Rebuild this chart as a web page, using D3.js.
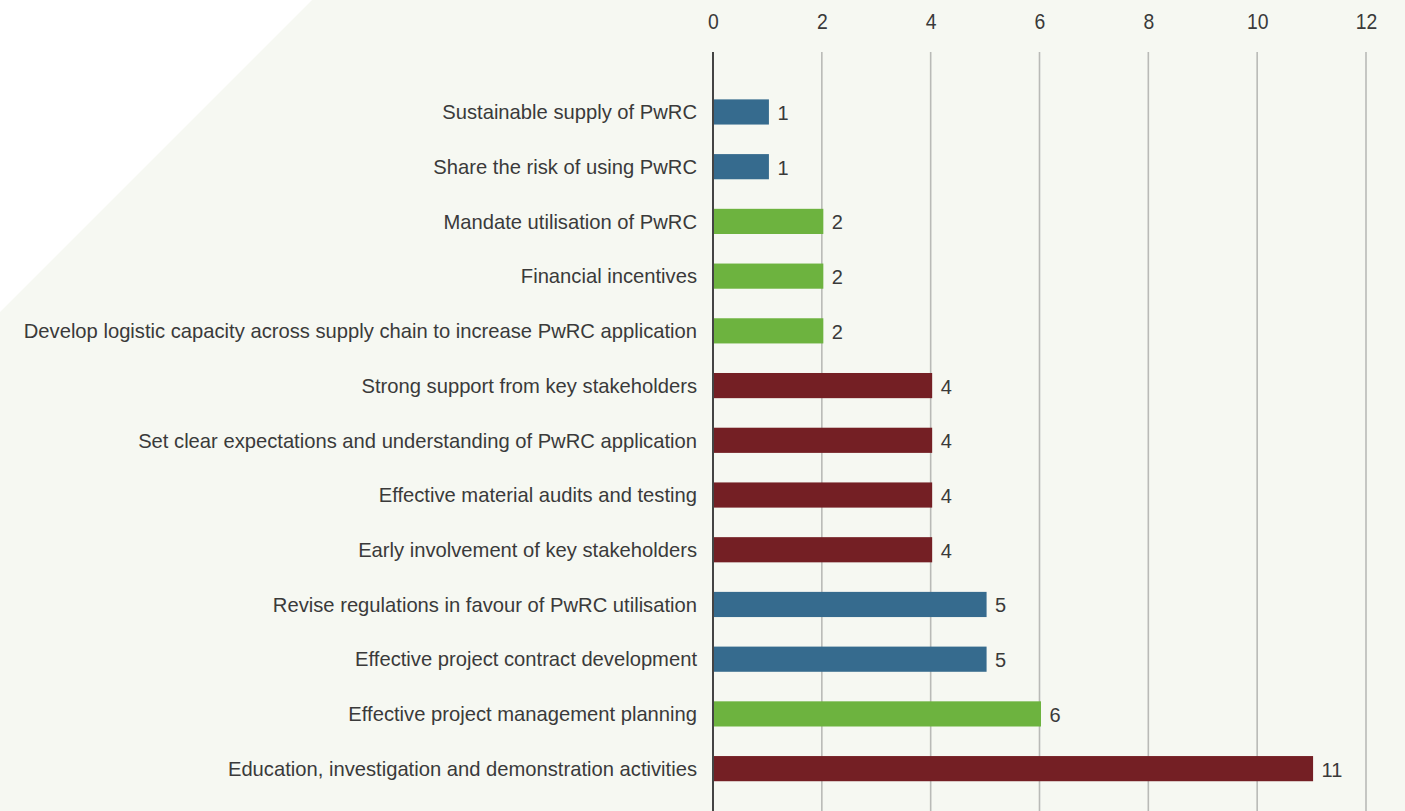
<!DOCTYPE html>
<html>
<head>
<meta charset="utf-8">
<script src="https://cdn.jsdelivr.net/npm/d3@7"></script>
<style>
  html, body { margin: 0; padding: 0; background: #f6f8f2; }
  svg { display: block; }
  text { font-family: "Liberation Sans", Arial, Helvetica, sans-serif; fill: #3a3a3a; }
</style>
</head>
<body>
<svg id="chart" width="1405" height="811"></svg>
<script>
// Enablers, listed top to bottom
const categories = [
  "Sustainable supply of PwRC",
  "Share the risk of using PwRC",
  "Mandate utilisation of PwRC",
  "Financial incentives",
  "Develop logistic capacity across supply chain to increase PwRC application",
  "Strong support from key stakeholders",
  "Set clear expectations and understanding of PwRC application",
  "Effective material audits and testing",
  "Early involvement of key stakeholders",
  "Revise regulations in favour of PwRC utilisation",
  "Effective project contract development",
  "Effective project management planning",
  "Education, investigation and demonstration activities"
];
const counts = [1, 1, 2, 2, 2, 4, 4, 4, 4, 5, 5, 6, 11];
const groups = ["blue", "blue", "green", "green", "green", "red", "red", "red", "red", "blue", "blue", "green", "red"];
const xTicks = [0, 2, 4, 6, 8, 10, 12];

const palette = { blue: "#366b8e", green: "#6db33f", red: "#741f24" };

const W = 1405, H = 811;
const svg = d3.select("#chart");

// pale page with a white corner cut
svg.append("rect").attr("width", W).attr("height", H).attr("fill", "#f6f8f2");
svg.append("path").attr("d", "M0,0 L312,0 L0,312 Z").attr("fill", "#ffffff");

const x = d3.scaleLinear().domain([0, 12]).range([713, 1366]);
const y = d3.scaleBand().domain(categories).range([84.6, 796]).paddingInner(0.54).paddingOuter(0.27);

const gridTop = 52, gridBottom = H;

// vertical gridlines
svg.append("g").selectAll("line")
  .data(xTicks.filter(d => d > 0))
  .join("line")
  .attr("x1", d => x(d)).attr("x2", d => x(d))
  .attr("y1", gridTop).attr("y2", gridBottom)
  .attr("stroke", "#b9bab7").attr("stroke-width", 1.6);

// tick labels along the top (slightly condensed digits)
const axis = d3.axisTop(x).tickValues(xTicks).tickSize(0).tickPadding(0);
const gAxis = svg.append("g").attr("transform", "translate(0,29)")
  .call(axis)
  .attr("font-size", 21.5)
  .attr("font-family", "'Liberation Sans', Arial, sans-serif");
gAxis.select(".domain").remove();
gAxis.selectAll("text")
  .attr("transform", "scale(0.9,1)")
  .attr("fill", "#3a3a3a");

// bars
svg.append("g").selectAll("rect")
  .data(categories)
  .join("rect")
  .attr("x", x(0))
  .attr("y", d => y(d))
  .attr("width", (d, i) => x(counts[i]) - x(0) + 1.5)
  .attr("height", y.bandwidth())
  .attr("fill", (d, i) => palette[groups[i]]);

// value labels
svg.append("g").selectAll("text")
  .data(categories)
  .join("text")
  .attr("x", (d, i) => x(counts[i]) + 10)
  .attr("y", d => y(d) + y.bandwidth() / 2)
  .attr("dy", "0.4em")
  .style("font-size", "20px")
  .text((d, i) => counts[i]);

// category labels
svg.append("g").selectAll("text")
  .data(categories)
  .join("text")
  .attr("x", 697)
  .attr("y", d => y(d) + y.bandwidth() / 2)
  .attr("dy", "0.36em")
  .attr("text-anchor", "end")
  .style("font-size", "20.2px")
  .text(d => d);

// zero axis line
svg.append("line")
  .attr("x1", x(0)).attr("x2", x(0))
  .attr("y1", gridTop).attr("y2", gridBottom)
  .attr("stroke", "#444444").attr("stroke-width", 2);
</script>
</body>
</html>
